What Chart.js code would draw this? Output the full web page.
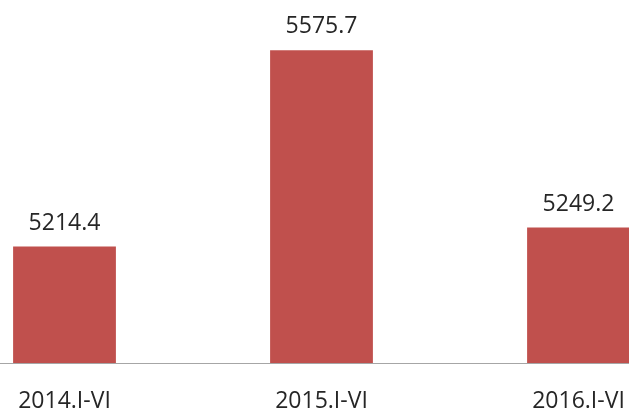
<!DOCTYPE html>
<html>
<head>
<meta charset="utf-8">
<script src="https://cdn.jsdelivr.net/npm/chart.js@4"></script>
<style>
html,body{margin:0;padding:0;background:#fff;overflow:hidden}
#wrap{position:absolute;left:-64px;top:0;width:771px;height:440px}
</style>
</head>
<body>
<div id="wrap"><canvas id="c"></canvas></div>
<script>
// chart data
const periods=['2014.I-VI','2015.I-VI','2016.I-VI'];
const values=[5214.4,5575.7,5249.2];
const yMin=5000,yMax=5600;

const FONT='"Open Sans", sans-serif';

// draws the value above each bar
const valueLabels={
  id:'valueLabels',
  afterDatasetsDraw(chart){
    const ctx=chart.ctx;
    const meta=chart.getDatasetMeta(0);
    ctx.save();
    ctx.font='23px '+FONT;
    ctx.fillStyle='#262626';
    ctx.textAlign='center';
    ctx.textBaseline='alphabetic';
    meta.data.forEach((bar,i)=>{
      ctx.fillText(values[i].toFixed(1),bar.x,bar.y-17);
    });
    ctx.restore();
  }
};

new Chart(document.getElementById('c'),{
  type:'bar',
  data:{labels:periods,datasets:[{data:values,backgroundColor:'#C0504D',borderWidth:0,
    barPercentage:0.4,categoryPercentage:1}]},
  options:{
    responsive:true,maintainAspectRatio:false,animation:false,
    layout:{padding:{top:37,bottom:0,left:0,right:0}},
    plugins:{legend:{display:false},tooltip:{enabled:false}},
    scales:{
      x:{grid:{display:false,drawTicks:false},
        border:{display:true,color:'#A6A6A6',width:1},
        ticks:{padding:27,color:'#262626',font:{size:23,family:FONT,lineHeight:1}}},
      y:{display:false,min:yMin,max:yMax}
    }
  },
  plugins:[valueLabels]
});
</script>
</body>
</html>
